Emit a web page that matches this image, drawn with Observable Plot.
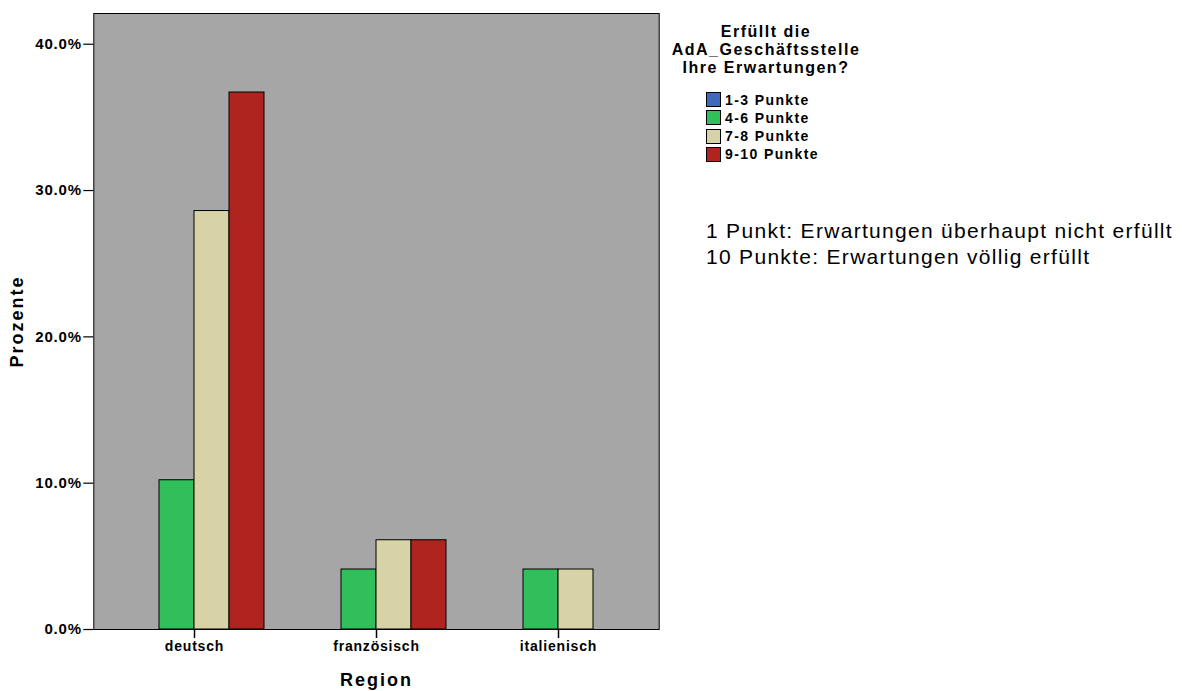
<!DOCTYPE html>
<html>
<head>
<meta charset="utf-8">
<script src="https://cdn.jsdelivr.net/npm/d3@7"></script>
<script src="https://cdn.jsdelivr.net/npm/@observablehq/plot@0.6"></script>
<style>
  html, body { margin: 0; padding: 0; background: #fff; }
  #wrap { position: relative; width: 1182px; height: 691px; font-family: Arial, "Liberation Sans", sans-serif; color: #000; }
  #chart { position: absolute; left: 0; top: 0; }
  #legendTitle { position: absolute; left: 660px; width: 212px; top: 23px; text-align: center; font-weight: bold; font-size: 16px; line-height: 18px; letter-spacing: 1.5px; }
  .item { position: absolute; left: 706px; height: 16px; display: flex; align-items: center; font-weight: bold; font-size: 14px; letter-spacing: 1.4px; white-space: nowrap; }
  .sw { width: 13px; height: 13px; border: 1px solid #000; margin-right: 4px; }
  #note { position: absolute; left: 706px; top: 218px; font-size: 21px; line-height: 26px; letter-spacing: 1.3px; white-space: nowrap; }
</style>
</head>
<body>
<div id="wrap">
  <div id="chart"></div>
  <div id="legendTitle">Erfüllt die<br>AdA_Geschäftsstelle<br>Ihre Erwartungen?</div>
  <div id="legend"></div>
  <div id="note">1 Punkt: Erwartungen überhaupt nicht erfüllt<br>10 Punkte: Erwartungen völlig erfüllt</div>
</div>
<script>
const regions = ["deutsch", "französisch", "italienisch"];
const categories = ["1-3 Punkte", "4-6 Punkte", "7-8 Punkte", "9-10 Punkte"];
const colors = ["#4268bd", "#31bf5b", "#d8d3a6", "#b0241f"];
const pctDeutsch = [0, 10.2, 28.6, 36.7];
const pctFranzoesisch = [0, 4.1, 6.1, 6.1];
const pctItalienisch = [0, 4.1, 4.1, 0];
const yTicks = [0, 10, 20, 30, 40];
const yMax = 42.1;

const series = [pctDeutsch, pctFranzoesisch, pctItalienisch];
const data = [];
regions.forEach((r, i) => categories.forEach((c, j) => data.push({region: r, category: c, value: series[i][j]})));

const pad = 9.7; // gap between plot border and first/last region band
const plot = Plot.plot({
  width: 670,
  height: 691,
  marginLeft: 103,
  marginRight: 20.5,
  marginTop: 13,
  marginBottom: 62,
  style: {fontFamily: "Arial, 'Liberation Sans', sans-serif", fontWeight: "bold", fontSize: "14px", color: "#000", background: "transparent"},
  fx: {domain: regions, padding: 0, label: null, axis: null},
  x: {domain: categories, paddingInner: 0, paddingOuter: 0.53, axis: null},
  y: {domain: [0, yMax], axis: null},
  color: {domain: categories, range: colors},
  marks: [
    Plot.frame({facet: "super", fill: "#a6a6a6", stroke: "none", insetLeft: -pad, insetRight: -pad}),
    Plot.barY(data, {fx: "region", x: "category", y: "value", fill: "category", stroke: "#000", strokeWidth: 1, filter: d => d.value > 0}),
    Plot.frame({facet: "super", fill: "none", stroke: "#000", strokeWidth: 1, insetLeft: -pad, insetRight: -pad}),
    Plot.axisY({ticks: yTicks, tickFormat: d => d.toFixed(1) + "%", tickSize: 10, tickPadding: 2, dx: -pad, label: null, stroke: "#000", strokeWidth: 1.2, fontSize: 15, fontWeight: "bold"}),
    Plot.axisFx({anchor: "bottom", tickSize: 9, tickPadding: 3, label: null, stroke: "#000", strokeWidth: 1.5, fontSize: 14, fontWeight: "bold"}),
    Plot.text(["Region"], {facet: "super", frameAnchor: "bottom", dy: 51, fontSize: 18, fontWeight: "bold", lineAnchor: "middle"}),
    Plot.text(["Prozente"], {facet: "super", frameAnchor: "left", dx: -86, rotate: -90, textAnchor: "middle", lineAnchor: "middle", fontSize: 18, fontWeight: "bold"})
  ]
});
plot.querySelectorAll("text").forEach(t => {
  const s = t.textContent;
  if (s === "Region" || s === "Prozente") t.setAttribute("letter-spacing", "2px");
  else if (regions.includes(s)) t.setAttribute("letter-spacing", "0.8px");
  else if (/%$/.test(s)) t.setAttribute("letter-spacing", "0.8px");
});
document.getElementById("chart").appendChild(plot);

const legend = document.getElementById("legend");
categories.forEach((c, i) => {
  const row = document.createElement("div");
  row.className = "item";
  row.style.top = (91.5 + i * 18.3) + "px";
  const sw = document.createElement("div");
  sw.className = "sw";
  sw.style.background = colors[i];
  row.appendChild(sw);
  row.appendChild(document.createTextNode(c));
  legend.appendChild(row);
});
</script>
</body>
</html>
